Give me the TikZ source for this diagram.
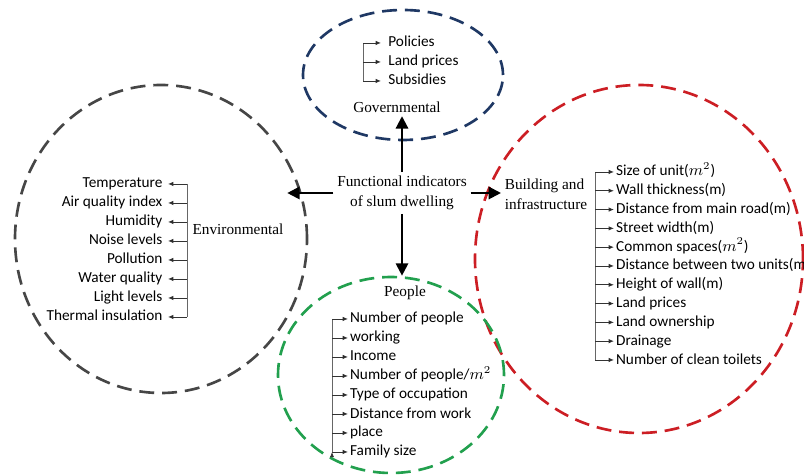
\documentclass[tikz,border=0pt]{standalone}
\usepackage{amsmath, amssymb}
\usepackage{fontspec}
\setmainfont{Liberation Serif}
\newfontfamily\itemfont{Carlito}
\usepackage{tikz}
\usetikzlibrary{matrix,arrows.meta,shapes.geometric}
\definecolor{govblue}{RGB}{31,56,100}
\definecolor{bldred}{RGB}{204,30,36}
\definecolor{pplgreen}{RGB}{34,160,78}
\definecolor{envgray}{RGB}{70,70,70}

\begin{document}
\begin{tikzpicture}[
  ring/.style={ellipse, draw, line width=1.5pt, dash pattern=on 8.5pt off 4.5pt, inner sep=0pt},
  headtext/.style={font=\fontsize{8.7}{11.4}\selectfont, inner sep=2pt},
  itemlist/.style={matrix of nodes, inner sep=0pt, row sep={#1,between origins},
    nodes={font=\itemfont\fontsize{8.7}{10}\selectfont, inner ysep=0pt}},
  bracketline/.style={draw=gray!80!black, line width=0.5pt},
  itemarrow/.style={-{Latex[length=3pt,width=2.5pt]}, draw=black!80, line width=0.5pt},
  mainarrow/.style={-{Triangle[length=7pt,width=7pt]}, line width=1.2pt}
]
\useasboundingbox (0,0) rectangle (16.08,9.5);

\node[ring, draw=govblue, minimum width=4cm, minimum height=2.6cm] (govring) at (8.06,8.0) {};
\node[ring, draw=envgray, minimum width=5.84cm, minimum height=6.16cm] (envring) at (3.22,4.72) {};
\node[ring, draw=bldred, minimum width=6.56cm, minimum height=6.96cm] (bldring) at (12.78,4.32) {};
\node[ring, draw=pplgreen, minimum width=4.52cm, minimum height=3.92cm] (pplring) at (7.82,2.0) {};

\node[headtext, align=center] (fid) at (8.04,5.64) {Functional indicators\\of slum dwelling};
\node[headtext] (govlbl) at (7.94,7.36) {Governmental};
\node[headtext] (envlbl) at (4.76,4.92) {Environmental};
\node[headtext, align=left] (bldlbl) at (10.92,5.62) {Building and\\infrastructure};
\node[headtext] (ppllbl) at (8.10,3.64) {People};

\matrix (gov) [itemlist=0.38cm, nodes={anchor=base west, inner xsep=4pt},
  matrix anchor=gov-1-1.base west] at (7.62,8.56)
{
Policies \\
Land prices \\
Subsidies \\ };

\matrix (env) [itemlist=0.38cm, nodes={anchor=base east, inner xsep=3pt},
  matrix anchor=env-1-1.base east] at (3.36,5.74)
{
Temperature \\
Air quality index \\
Humidity \\
Noise levels \\
Pollution \\
Water quality \\
Light levels \\
Thermal insulation \\ };

\matrix (bld) [itemlist=0.376cm, nodes={anchor=base west, inner xsep=1pt},
  matrix anchor=bld-1-1.base west] at (12.28,5.98)
{
Size of unit($m^2$) \\
Wall thickness(m) \\
Distance from main road(m) \\
Street width(m) \\
Common spaces($m^2$) \\
Distance between two units(m) \\
Height of wall(m) \\
Land prices \\
Land ownership \\
Drainage \\
Number of clean toilets \\ };

\matrix (ppl) [itemlist=0.38cm, nodes={anchor=base west, inner xsep=1pt},
  matrix anchor=ppl-1-1.base west] at (6.96,3.04)
{
Number of people \\
working \\
Income \\
Number of people/$m^2$ \\
Type of occupation \\
Distance from work \\
place \\
Family size \\ };

\coordinate (govbar) at (7.26,0);
\coordinate (envbar) at (3.74,0);
\coordinate (bldbar) at (11.9,0);
\coordinate (pplbar) at (6.64,0);

\path[bracketline]
  (gov-1-1.mid west -| govbar) edge (gov-3-1.mid west -| govbar)
  (env-1-1.mid east -| envbar) edge (env-8-1.mid east -| envbar)
  (bld-1-1.mid west -| bldbar) edge (bld-11-1.mid west -| bldbar)
  (ppl-1-1.mid west -| pplbar) edge (ppl-8-1.mid west -| pplbar);

\path[itemarrow]
  (gov-1-1.mid west -| govbar) edge (gov-1-1.mid west)
  (gov-2-1.mid west -| govbar) edge (gov-2-1.mid west)
  (gov-3-1.mid west -| govbar) edge (gov-3-1.mid west)
  (env-1-1.mid east -| envbar) edge (env-1-1.mid east)
  (env-2-1.mid east -| envbar) edge (env-2-1.mid east)
  (env-3-1.mid east -| envbar) edge (env-3-1.mid east)
  (env-4-1.mid east -| envbar) edge (env-4-1.mid east)
  (env-5-1.mid east -| envbar) edge (env-5-1.mid east)
  (env-6-1.mid east -| envbar) edge (env-6-1.mid east)
  (env-7-1.mid east -| envbar) edge (env-7-1.mid east)
  (env-8-1.mid east -| envbar) edge (env-8-1.mid east)
  (bld-1-1.mid west -| bldbar) edge (bld-1-1.mid west)
  (bld-2-1.mid west -| bldbar) edge (bld-2-1.mid west)
  (bld-3-1.mid west -| bldbar) edge (bld-3-1.mid west)
  (bld-4-1.mid west -| bldbar) edge (bld-4-1.mid west)
  (bld-5-1.mid west -| bldbar) edge (bld-5-1.mid west)
  (bld-6-1.mid west -| bldbar) edge (bld-6-1.mid west)
  (bld-7-1.mid west -| bldbar) edge (bld-7-1.mid west)
  (bld-8-1.mid west -| bldbar) edge (bld-8-1.mid west)
  (bld-9-1.mid west -| bldbar) edge (bld-9-1.mid west)
  (bld-10-1.mid west -| bldbar) edge (bld-10-1.mid west)
  (bld-11-1.mid west -| bldbar) edge (bld-11-1.mid west)
  (ppl-1-1.mid west -| pplbar) edge (ppl-1-1.mid west)
  (ppl-2-1.mid west -| pplbar) edge (ppl-2-1.mid west)
  (ppl-3-1.mid west -| pplbar) edge (ppl-3-1.mid west)
  (ppl-4-1.mid west -| pplbar) edge (ppl-4-1.mid west)
  (ppl-5-1.mid west -| pplbar) edge (ppl-5-1.mid west)
  (ppl-6-1.mid west -| pplbar) edge (ppl-6-1.mid west)
  (ppl-7-1.mid west -| pplbar) edge (ppl-7-1.mid west)
  (ppl-8-1.mid west -| pplbar) edge (ppl-8-1.mid west);

%  \path[-stealth]
\path[mainarrow]
  (fid.north) edge (fid.north |- govlbl.south)
  (fid.west) edge (fid.west -| envlbl.east)
  (fid.east) edge (fid.east -| bldlbl.west)
  (fid.south) edge (fid.south |- pplring.north);
\end{tikzpicture}
\end{document}
